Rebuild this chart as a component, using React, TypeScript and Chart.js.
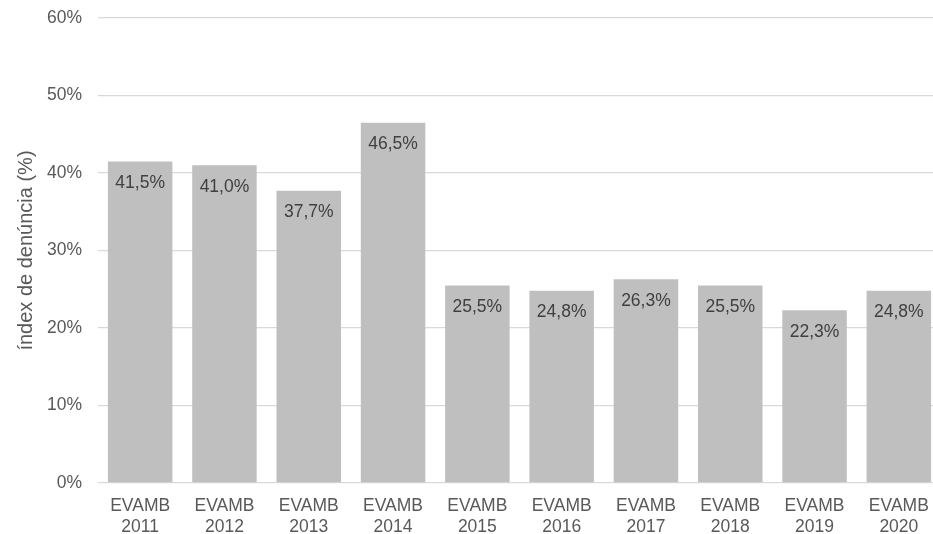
import React, { useEffect, useRef } from "react";
import { Chart, registerables } from "chart.js";

Chart.register(...registerables);

const categories: string[][] = [
  ["EVAMB", "2011"], ["EVAMB", "2012"], ["EVAMB", "2013"], ["EVAMB", "2014"], ["EVAMB", "2015"],
  ["EVAMB", "2016"], ["EVAMB", "2017"], ["EVAMB", "2018"], ["EVAMB", "2019"], ["EVAMB", "2020"],
];
const values: number[] = [41.5, 41.0, 37.7, 46.5, 25.5, 24.8, 26.3, 25.5, 22.3, 24.8];
const yTicks: number[] = [0, 10, 20, 30, 40, 50, 60];
const yTitle = "índex de denúncia (%)";

const FONT = "'Liberation Sans', Arial, sans-serif";

const fmt = (v: number) => v.toFixed(1).replace(".", ",") + "%";

const labelPlugin = {
  id: "barLabels",
  afterDatasetsDraw(chart: any) {
    const ctx = chart.ctx;
    const meta = chart.getDatasetMeta(0);
    ctx.save();
    ctx.font = `17.5px ${FONT}`;
    ctx.fillStyle = "#404040";
    ctx.textAlign = "center";
    ctx.textBaseline = "alphabetic";
    meta.data.forEach((bar: any, i: number) => {
      ctx.fillText(fmt(values[i]), bar.x, bar.y + 26.5);
    });
    ctx.restore();
  },
};

export default function App() {
  const ref = useRef<HTMLCanvasElement>(null);
  useEffect(() => {
    if (!ref.current) return;
    const chart = new Chart(ref.current, {
      type: "bar",
      data: {
        labels: categories,
        datasets: [
          {
            data: values,
            backgroundColor: "#BFBFBF",
            borderWidth: 0,
            categoryPercentage: 1,
            barPercentage: 0.765,
          },
        ],
      },
      options: {
        animation: false,
        responsive: false,
        maintainAspectRatio: false,
        layout: { padding: { top: 18, right: 0, left: 0, bottom: 0 } },
        plugins: { legend: { display: false }, tooltip: { enabled: false } },
        scales: {
          x: {
            grid: { display: false },
            border: { display: false },
            ticks: {
              color: "#595959",
              font: { family: FONT, size: 17.5, lineHeight: 1.17 },
              padding: 5,
              maxRotation: 0,
              autoSkip: false,
            },
            afterFit: (s: any) => { s.height = 51; s.paddingLeft = 0; s.paddingRight = 0; },
          },
          y: {
            min: 0,
            max: 60,
            afterBuildTicks: (s: any) => { s.ticks = yTicks.map((v) => ({ value: v })); },
            grid: { color: "#D9D9D9", lineWidth: 1.3, drawTicks: false },
            border: { display: false },
            ticks: {
              color: "#595959",
              font: { family: FONT, size: 17.5 },
              padding: 16,
              callback: (v: any) => v + "%",
            },
            title: {
              display: true,
              text: yTitle,
              color: "#595959",
              font: { family: FONT, size: 20 },
              padding: { top: 14, bottom: 0 },
            },
            afterFit: (s: any) => { s.width = 98; s.paddingTop = 0; s.paddingBottom = 0; },
          },
        },
      },
      plugins: [labelPlugin],
    });
    return () => chart.destroy();
  }, []);
  return (
    <div style={{ position: "fixed", left: 0, top: 0, width: 941, height: 534, background: "#fff" }}>
      <canvas ref={ref} width={941} height={534} style={{ display: "block" }} />
    </div>
  );
}
